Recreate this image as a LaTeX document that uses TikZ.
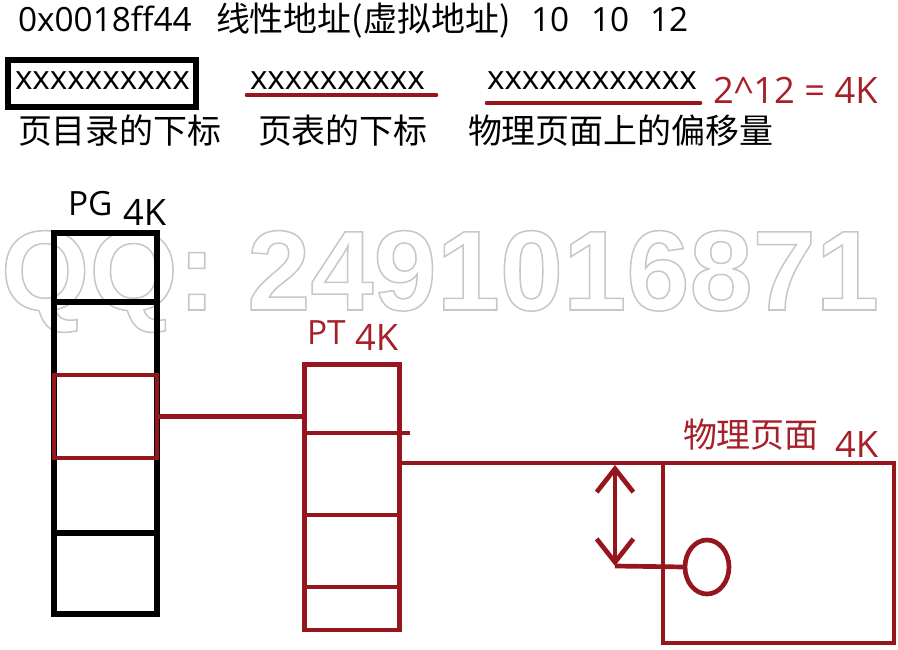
\documentclass[tikz,border=0pt]{standalone}
\usepackage{fontspec}
\usepackage{xcolor}
\usepackage{tikz}
\usetikzlibrary{shapes.geometric, arrows.meta}
\setmainfont{Open Sans}
\newfontfamily\cjkfont{Noto Sans CJK SC}
\newfontfamily\wmfont{Liberation Sans}
\definecolor{inkred}{RGB}{150,22,30}
\definecolor{textred}{RGB}{165,32,40}

\begin{document}
\begin{tikzpicture}[x=0.03cm, y=-0.03cm, every node/.style={inner sep=0pt, outer sep=0pt}]
        % Styles for text, boxes and lines
        \tikzstyle{txt} = [anchor=base west, font=\fontsize{28.5}{32}\selectfont]
        \tikzstyle{bigtxt} = [anchor=base west, font=\fontsize{31}{34}\selectfont]
        \tikzstyle{cjk} = [anchor=base west, font=\fontsize{29}{34}\selectfont\cjkfont]
        \tikzstyle{redline} = [draw=inkred, line width=4pt]
        \tikzstyle{blackline} = [draw=black, line width=4.5pt]
        \tikzstyle{redbox} = [rectangle, draw=inkred, line width=4pt]
        \tikzstyle{arrow} = [redline, {Straight Barb[length=0.7cm, width=1.1cm]}-{Straight Barb[length=0.7cm, width=1.1cm]}]

        \useasboundingbox (0,0) rectangle (898,650);

        % Watermark, outlined letters
        \node (qq) [anchor=base west, font=\fontsize{97}{100}\selectfont\wmfont\bfseries, text=black!22] at (1,310)
            {\special{pdf:literal direct 1 Tr 1.3 w}QQ: 2491016871\special{pdf:literal direct 0 Tr}};

        % Linear address
        \node (addr) [txt] at (18,32) {0x0018ff44};
        \node (linear) [cjk] at (216,32) {线性地址(虚拟地址)};
        \node (nten1) [txt] at (531,32) {10};
        \node (nten2) [txt] at (591,32) {10};
        \node (ntwelve) [txt] at (650,32) {12};

        % Index fields
        \node (dirbox) [rectangle, draw=black, line width=4.5pt, minimum width=5.64cm, minimum height=1.41cm] at (102,83.5) {};
        \node (dirbits) [txt] at (15,90) {xxxxxxxxxx};
        \node (ptbits) [txt] at (250,90) {xxxxxxxxxx};
        \draw [redline, line cap=round] (247,95) -- (436,95);
        \node (offbits) [txt] at (487,90) {xxxxxxxxxxxx};
        \draw [redline, line cap=round] (487,103) -- (700,103);
        \node (size) [bigtxt, text=textred] at (713,104) {2\textasciicircum12 = 4K};

        \node (dirlabel) [cjk] at (18,144) {页目录的下标};
        \node (ptlabel) [cjk] at (258,144) {页表的下标};
        \node (offlabel) [cjk] at (468,144) {物理页面上的偏移量};

        % Page directory
        \draw [blackline] (54,233) rectangle (157,614);
        \draw [blackline] (54,302) -- (157,302);
        \draw [blackline] (54,533) -- (157,533);
        \node (pgsel) [redbox, minimum width=3.09cm, minimum height=2.49cm] at (105.5,416.5) {};
        \node (pgname) [txt] at (68,215) {PG};
        \node (pgsize) [bigtxt] at (123,225) {4K};

        % Page table
        \node (pt) [redbox, minimum width=2.87cm, minimum height=7.97cm] at (352,497) {};
        \draw [redline] (304,433) -- (410,433);
        \draw [redline] (304,515) -- (400,515);
        \draw [redline] (304,587) -- (400,587);
        \node (ptname) [txt, text=textred] at (307,344) {PT};
        \node (ptsize) [bigtxt, text=textred] at (355,350) {4K};

        % Physical page
        \node (page) [redbox, minimum width=6.93cm, minimum height=5.4cm] at (778.5,553) {};
        \node (pagename) [cjk, text=textred] at (683,447) {物理页面};
        \node (pagesize) [bigtxt, text=textred] at (835,457) {4K};
        \node (offset) [ellipse, draw=inkred, line width=4pt, minimum width=1.32cm, minimum height=1.62cm] at (707,567) {};
        \coordinate (ofstop) at (615,465);
        \coordinate (ofsbot) at (615,566);

        % Connectors
        \draw [redline] (pgsel.east) -- (pgsel.east -| pt.west);
        \draw [redline] (pt.east |- page.north west) -- (page.north west);
        \draw [arrow] (ofstop) -- (ofsbot);
        \draw [redline] (ofsbot) -- (offset.west);
    \end{tikzpicture}
\end{document}
